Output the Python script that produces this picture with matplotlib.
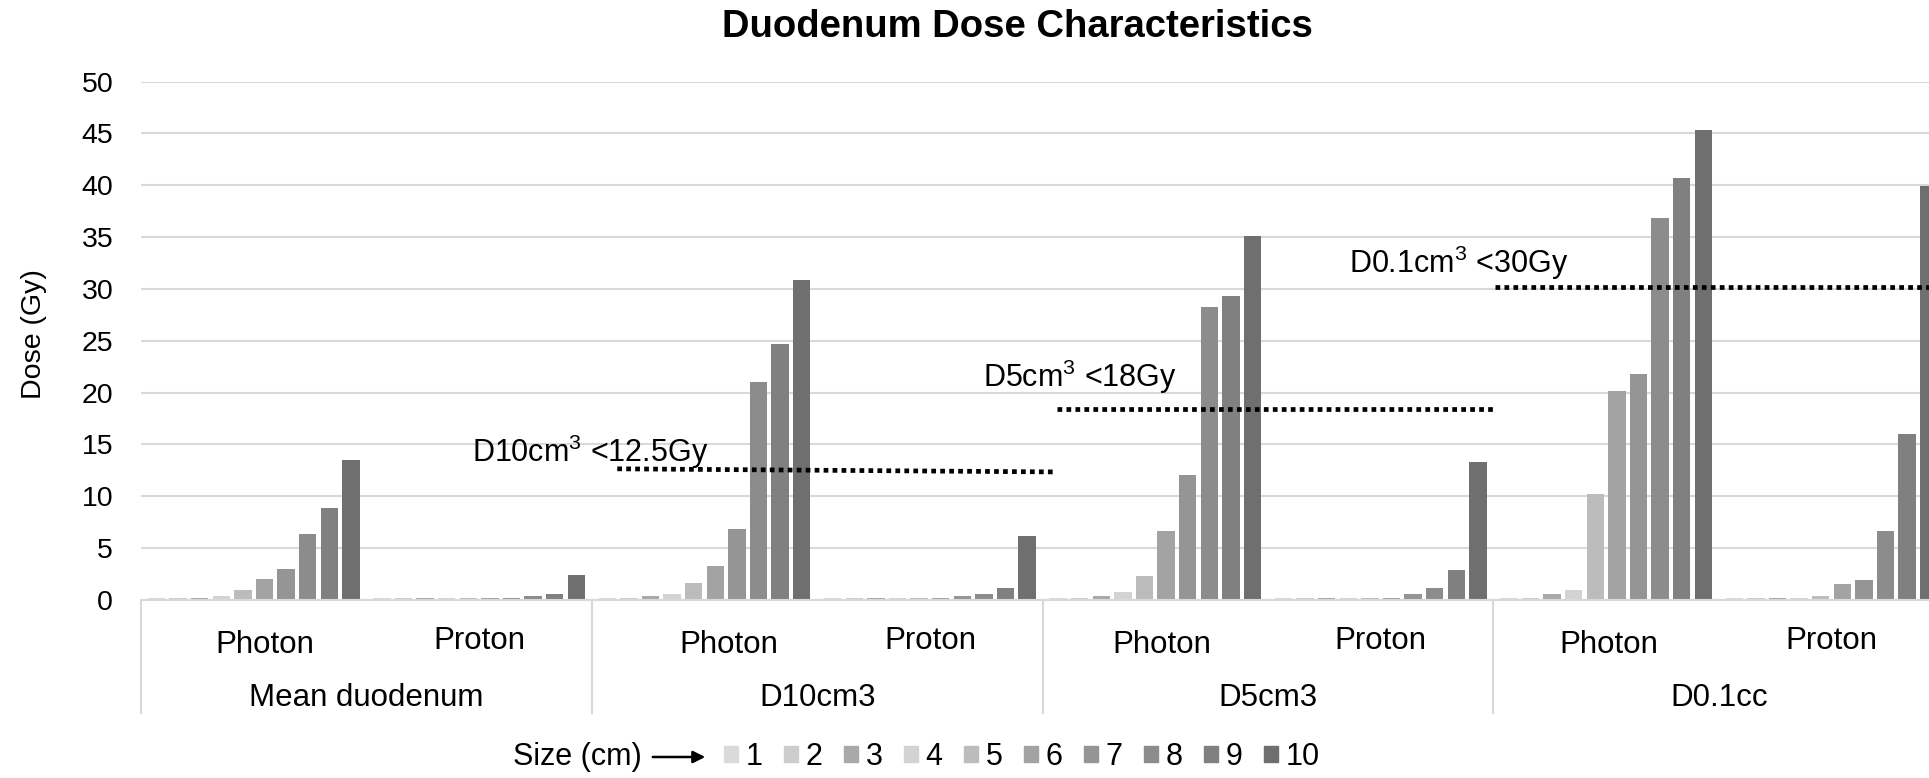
import matplotlib
matplotlib.use("Agg")
import matplotlib.pyplot as plt
from matplotlib.patches import Rectangle

plt.rcParams['font.family'] = ['Liberation Sans', 'DejaVu Sans']
plt.rcParams['mathtext.fontset'] = 'custom'
plt.rcParams['mathtext.rm'] = 'Liberation Sans'

sizes = ['1', '2', '3', '4', '5', '6', '7', '8', '9', '10']
groups = ['Mean duodenum', 'D10cm3', 'D5cm3', 'D0.1cc']
modes = ['Photon', 'Proton']

# dose (Gy) per tumour size, one list per group/modality
mean_photon = [0.2, 0.2, 0.2, 0.4, 1.0, 2.0, 3.0, 6.4, 8.9, 13.5]
mean_proton = [0.2, 0.2, 0.2, 0.2, 0.2, 0.2, 0.2, 0.4, 0.6, 2.4]
d10_photon = [0.2, 0.2, 0.4, 0.6, 1.6, 3.3, 6.8, 21.0, 24.7, 30.9]
d10_proton = [0.2, 0.2, 0.2, 0.2, 0.2, 0.2, 0.4, 0.6, 1.2, 6.2]
d5_photon = [0.2, 0.2, 0.4, 0.8, 2.3, 6.7, 12.1, 28.3, 29.3, 35.1]
d5_proton = [0.2, 0.2, 0.2, 0.2, 0.2, 0.2, 0.6, 1.2, 2.9, 13.3]
d01_photon = [0.2, 0.2, 0.6, 1.0, 10.2, 20.2, 21.8, 36.8, 40.7, 45.3]
d01_proton = [0.2, 0.2, 0.2, 0.2, 0.4, 1.5, 1.9, 6.7, 16.0, 39.9]

series = [mean_photon, mean_proton, d10_photon, d10_proton,
          d5_photon, d5_proton, d01_photon, d01_proton]

limits = [12.5, 18, 30]
limit_labels = [r'D10cm$^\mathregular{3}$ <12.5Gy',
                r'D5cm$^\mathregular{3}$ <18Gy',
                r'D0.1cm$^\mathregular{3}$ <30Gy']

colors = ['#dadada', '#cdcdcd', '#a9a9a9', '#d3d3d3', '#bcbcbc',
          '#a3a3a3', '#959595', '#8c8c8c', '#808080', '#6f6f6f']
grid_col = '#d9d9d9'

W, H = 1929, 778
fig = plt.figure(figsize=(W / 100, H / 100), dpi=100)
# axes runs a bit past the right edge, the source image is cropped there
ax = fig.add_axes([141 / W, 178 / H, 8 * 225.4 / W, 518.5 / H])

slot = 0.0958
bar_w = 0.077
handles = []
for i in range(len(sizes)):
    xs = [s + 0.5 + (i - 4.5) * slot for s in range(len(series))]
    ys = [vals[i] for vals in series]
    ax.bar(xs, ys, width=bar_w, color=colors[i], zorder=2)
    handles.append(Rectangle((0, 0), 1, 1, color=colors[i]))

ax.set_xlim(0, 8)
ax.set_ylim(0, 50)
ax.set_yticks(range(0, 51, 5))
ax.set_xticks([])
ax.tick_params(axis='y', length=0, pad=20, labelsize=20.5)
ax.yaxis.grid(True, color=grid_col, lw=1.5)
ax.set_axisbelow(True)
for side in ['left', 'right', 'top']:
    ax.spines[side].set_visible(False)
ax.spines['bottom'].set_color(grid_col)
ax.spines['bottom'].set_linewidth(1.5)

# category axis labels below the plot
tr = ax.get_xaxis_transform()
photon_shift = [0.05, 0.11, 0.03, 0.01]
for g in range(len(groups)):
    ax.text(2 * g + 0.5 + photon_shift[g], -0.087, modes[0], transform=tr,
            ha='center', va='center', fontsize=22.5)
    ax.text(2 * g + 1.5, -0.079, modes[1], transform=tr,
            ha='center', va='center', fontsize=22.5)
    ax.text(2 * g + 1.0, -0.189, groups[g], transform=tr,
            ha='center', va='center', fontsize=22.5)
    ax.plot([2 * g, 2 * g], [0, -0.218], transform=tr, color=grid_col,
            lw=1.5, clip_on=False)

# dose constraint lines
dots = dict(color='black', lw=3.4, linestyle=(0, (1, 0.9)),
            dash_capstyle='butt', zorder=3, clip_on=False)
ax.plot([2.113, 4.057], [12.65, 12.35], **dots)
ax.plot([4.065, 6.003], [18.4, 18.4], **dots)
ax.plot([6.008, 8.0], [30.2, 30.2], **dots)
ax.text(1.992, 13.35, limit_labels[0], ha='center', va='baseline', fontsize=22, zorder=4)
ax.text(4.167, 20.5, limit_labels[1], ha='center', va='baseline', fontsize=22, zorder=4)
ax.text(5.847, 31.56, limit_labels[2], ha='center', va='baseline', fontsize=22, zorder=4)

fig.text(1017 / W, 1 - 27 / H, 'Duodenum Dose Characteristics',
         ha='center', va='center', fontsize=27.5, fontweight='bold')
fig.text(34 / W, 1 - 334 / H, 'Dose (Gy)', rotation=90,
         ha='center', va='center', fontsize=20.5)

# legend row
fig.text(577 / W, 1 - 757 / H, 'Size (cm)', ha='center', va='center', fontsize=22)
fig.add_artist(plt.Annotation('', xy=(708 / W, 1 - 757 / H),
                              xytext=(650 / W, 1 - 757 / H),
                              xycoords='figure fraction',
                              arrowprops=dict(arrowstyle='-|>', color='black',
                                              lw=1.8, mutation_scale=18)))
fig.legend(handles, sizes, loc='center left',
           bbox_to_anchor=(724 / W, 1 - 757 / H), ncol=10, frameon=False,
           fontsize=22, handlelength=0.45, handleheight=0.45,
           handletextpad=0.25, columnspacing=0.71, borderpad=0,
           borderaxespad=0)

fig.savefig('out.png', dpi=100)
